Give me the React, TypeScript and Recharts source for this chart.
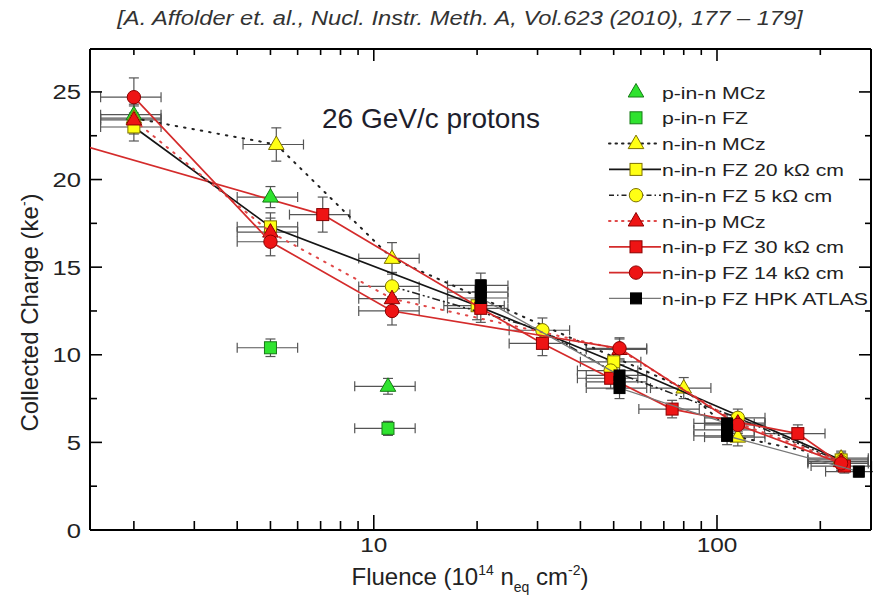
import React from 'react';
import { ScatterChart, Scatter, XAxis, YAxis, ErrorBar } from 'recharts';

// ---------- axes ----------
const FLUENCE_DOMAIN: [number, number] = [1.49, 281];
const CHARGE_DOMAIN: [number, number] = [0, 27.45];
const xTicks = [2, 3, 4, 5, 6, 7, 8, 9, 10, 20, 30, 40, 50, 60, 70, 80, 90, 100, 200];
const xTickLabels = [10, 100];
const yTicks = [0, 2.5, 5, 7.5, 10, 12.5, 15, 17.5, 20, 22.5, 25];
const yTickLabels = [0, 5, 10, 15, 20, 25];
const FLUENCE_REL_ERR = 0.2;

// ---------- data: [fluence (1e14 neq/cm2), collected charge (ke-), charge error] ----------
const pInNMCz = [[2, 23.7, 0.8], [5, 19.0, 0.6], [11, 8.2, 0.45]];
const pInNFZ = [[5, 10.4, 0.5], [11, 5.8, 0.4]];
const nInNMCz = [[2, 23.5, 0.8], [5.2, 22.0, 0.95], [11.3, 15.5, 0.9], [80, 8.1, 0.6], [115, 5.3, 0.5], [230, 4.1, 0.4]];
const nInNFZ20 = [[2, 23.0, 0.8], [5, 17.3, 0.8], [20, 12.8, 0.8], [50, 9.6, 0.7], [230, 4.0, 0.4]];
const nInNFZ5 = [[11.3, 13.9, 0.8], [31, 11.4, 0.7], [49, 9.1, 0.6], [115, 6.4, 0.5], [230, 3.9, 0.4]];
const nInPMCz = [[2, 23.4, 0.8], [5, 17.0, 0.8], [11.3, 13.2, 0.8], [52, 10.3, 0.6], [115, 6.1, 0.5], [230, 3.9, 0.4]];
const nInPFZ30 = [[1, 22.8, 0.8], [7.1, 18.0, 1.0], [20.5, 12.65, 0.8], [31, 10.65, 0.7], [49, 8.66, 0.6], [74, 6.9, 0.5], [172, 5.5, 0.5], [235, 3.65, 0.4]];
const nInPFZ14 = [[2, 24.7, 1.1], [5, 16.45, 0.8], [11.3, 12.5, 0.8], [52, 10.37, 0.6], [115, 6.0, 0.5], [230, 3.8, 0.4]];
const nInPHPK = [[20.5, 13.96, 0.7], [20.5, 13.58, 0.7], [20.5, 13.24, 0.7], [52, 8.82, 0.6], [52, 8.45, 0.6], [52, 8.1, 0.6], [107, 6.08, 0.5], [107, 5.71, 0.5], [107, 5.37, 0.5], [259, 3.33, 0.3]];

const seriesNames = [
  'p-in-n MCz',
  'p-in-n FZ',
  'n-in-n MCz',
  'n-in-n FZ 20 kΩ cm',
  'n-in-n FZ 5 kΩ cm',
  'n-in-p MCz',
  'n-in-p FZ 30 kΩ cm',
  'n-in-p FZ 14 kΩ cm',
  'n-in-p FZ HPK ATLAS',
];

const GREEN = '#2fe32f';
const GREEN_EDGE = '#167a16';
const YELLOW = '#ffff14';
const YELLOW_EDGE = '#7d7000';
const RED = '#ee1414';
const RED_EDGE = '#8c0000';
const BLACK = '#000000';

type Kind = 'triangle' | 'square' | 'circle' | 'smallsquare';
interface LineStyle { stroke: string; strokeWidth: number; strokeDasharray?: string; strokeLinecap?: string }
interface SeriesStyle { kind: Kind; fill: string; stroke: string; line: null | LineStyle; legendDash?: string }

const styles: SeriesStyle[] = [
  { kind: 'triangle', fill: GREEN, stroke: GREEN_EDGE, line: null },
  { kind: 'square', fill: GREEN, stroke: GREEN_EDGE, line: null },
  { kind: 'triangle', fill: YELLOW, stroke: YELLOW_EDGE, line: { stroke: '#222', strokeWidth: 2, strokeDasharray: '1.5 7', strokeLinecap: 'round' }, legendDash: '1.5 5' },
  { kind: 'square', fill: YELLOW, stroke: YELLOW_EDGE, line: { stroke: '#151515', strokeWidth: 1.7 } },
  { kind: 'circle', fill: YELLOW, stroke: YELLOW_EDGE, line: { stroke: '#222', strokeWidth: 1.5, strokeDasharray: '8 3 2 3 2 3' }, legendDash: '5 3 1.5 3' },
  { kind: 'triangle', fill: RED, stroke: RED_EDGE, line: { stroke: '#e04848', strokeWidth: 2, strokeDasharray: '1.5 7', strokeLinecap: 'round' }, legendDash: '1.5 5' },
  { kind: 'square', fill: RED, stroke: RED_EDGE, line: { stroke: '#d42b2b', strokeWidth: 1.7 } },
  { kind: 'circle', fill: RED, stroke: RED_EDGE, line: { stroke: '#d42b2b', strokeWidth: 1.7 } },
  { kind: 'smallsquare', fill: BLACK, stroke: BLACK, line: { stroke: '#777', strokeWidth: 1.3 } },
];

const seriesData = [pInNMCz, pInNFZ, nInNMCz, nInNFZ20, nInNFZ5, nInPMCz, nInPFZ30, nInPFZ14, nInPHPK];

type Row = { x: number; y: number; ey: number; ex: number };
const toRows = (arr: number[][]): Row[] =>
  arr.map(([x, y, ey]) => ({ x, y, ey, ex: x * FLUENCE_REL_ERR }));

// points lying left of the visible fluence range only contribute their connecting line
const inRange = (r: Row) => r.x >= FLUENCE_DOMAIN[0];

const FONT = '"Liberation Sans", Arial, sans-serif';
const STRETCH = 1.22; // the reference's lettering is horizontally stretched

function Marker({ kind, cx, cy, fill, stroke }: { kind: Kind; cx: number; cy: number; fill: string; stroke: string }) {
  if (cx == null || cy == null || isNaN(cx) || isNaN(cy)) return null;
  if (kind === 'triangle') {
    const pts = `${cx},${cy - 8.5} ${cx - 7.8},${cy + 5} ${cx + 7.8},${cy + 5}`;
    return <polygon points={pts} fill={fill} stroke={stroke} strokeWidth={1} />;
  }
  if (kind === 'square') {
    return <rect x={cx - 6} y={cy - 6} width={12} height={12} fill={fill} stroke={stroke} strokeWidth={1} />;
  }
  if (kind === 'smallsquare') {
    return <rect x={cx - 5.5} y={cy - 5.5} width={11} height={11} fill={fill} stroke={stroke} strokeWidth={1} />;
  }
  return <circle cx={cx} cy={cy} r={6.7} fill={fill} stroke={stroke} strokeWidth={1} />;
}

function SText({ x, y, size, anchor, children, fill = '#222', italic = false }: any) {
  return (
    <text
      transform={`translate(${x},${y}) scale(${STRETCH},1)`}
      textAnchor={anchor || 'start'}
      fontFamily={FONT}
      fontSize={size}
      fontStyle={italic ? 'italic' : 'normal'}
      fill={fill}
    >
      {children}
    </text>
  );
}

const MAJOR_LEN = 12;
const MINOR_LEN = 7;

const BottomTick = (props: any) => {
  const { x, y, payload } = props;
  const v = payload.value;
  const major = xTickLabels.includes(v);
  return (
    <g>
      <line x1={x} x2={x} y1={y} y2={y - (major ? MAJOR_LEN + 3 : MINOR_LEN + 2)} stroke="#000" strokeWidth={1.6} />
      {major && <SText x={x} y={y + 22} size={20} anchor="middle">{v}</SText>}
    </g>
  );
};

const TopTick = (props: any) => {
  const { x, y, payload } = props;
  const major = xTickLabels.includes(payload.value);
  return <line x1={x} x2={x} y1={y} y2={y + (major ? MAJOR_LEN : MINOR_LEN - 1)} stroke="#000" strokeWidth={1.6} />;
};

const LeftTick = (props: any) => {
  const { x, y, payload } = props;
  const v = payload.value;
  const major = yTickLabels.includes(v);
  return (
    <g>
      <line x1={x} x2={x + (major ? MAJOR_LEN : MINOR_LEN)} y1={y} y2={y} stroke="#000" strokeWidth={1.6} />
      {major && <SText x={x - 9} y={y + 7.5} size={21} anchor="end">{v}</SText>}
    </g>
  );
};

const RightTick = (props: any) => {
  const { x, y, payload } = props;
  const major = yTickLabels.includes(payload.value);
  return <line x1={x} x2={x - (major ? MAJOR_LEN : MINOR_LEN - 1)} y1={y} y2={y} stroke="#000" strokeWidth={1.6} />;
};

const LEGEND_X = 609;
const LEGEND_Y0 = 92;
const LEGEND_DY = 25.8;

function LegendOverlay() {
  return (
    <g>
      {seriesNames.map((name, i) => {
        const st = styles[i];
        const y = LEGEND_Y0 + i * LEGEND_DY;
        const mx = LEGEND_X + 27;
        return (
          <g key={name}>
            {st.line && (
              <line
                x1={LEGEND_X}
                x2={LEGEND_X + 52}
                y1={y}
                y2={y}
                stroke={st.line.stroke}
                strokeWidth={st.line.strokeWidth}
                strokeDasharray={st.legendDash}
                strokeLinecap={(st.line.strokeLinecap as any) || 'butt'}
              />
            )}
            <Marker kind={st.kind} cx={mx} cy={y} fill={st.fill} stroke={st.stroke} />
            <SText x={LEGEND_X + 53} y={y + 6.5} size={17.4}>{name}</SText>
          </g>
        );
      })}
    </g>
  );
}

const axisCommon = {
  allowDataOverflow: true,
  interval: 0 as const,
  tickLine: false,
  tickSize: 0,
  tickMargin: 0,
  axisLine: { stroke: '#000', strokeWidth: 2 },
};

export default function App() {
  return (
    <div style={{ position: 'absolute', left: 0, top: 0, width: 873, height: 600, background: '#fff' }}>
      <ScatterChart width={873} height={600} margin={{ top: 0, right: 0, bottom: 0, left: 0 }}>
        <XAxis xAxisId="b" dataKey="x" type="number" scale="log" domain={FLUENCE_DOMAIN} ticks={xTicks} tick={<BottomTick />} height={70} {...axisCommon} />
        <XAxis xAxisId="t" orientation="top" dataKey="x" type="number" scale="log" domain={FLUENCE_DOMAIN} ticks={xTicks} tick={<TopTick />} height={49} {...axisCommon} />
        <YAxis yAxisId="l" dataKey="y" type="number" domain={CHARGE_DOMAIN} ticks={yTicks} tick={<LeftTick />} width={90} {...axisCommon} />
        <YAxis yAxisId="r" orientation="right" dataKey="y" type="number" domain={CHARGE_DOMAIN} ticks={yTicks} tick={<RightTick />} width={2} {...axisCommon} />
        {seriesData.map((arr, i) => {
          const st = styles[i];
          const rows = toRows(arr);
          const outside = rows.filter((r) => !inRange(r));
          if (!outside.length || !st.line) return null;
          const firstIn = rows.find(inRange);
          // connecting line entering from beyond the left edge (no markers)
          return (
            <Scatter
              key={seriesNames[i] + '-lead'}
              xAxisId="b"
              yAxisId="l"
              data={firstIn ? [...outside, firstIn] : outside}
              isAnimationActive={false}
              fill="none"
              line={st.line as any}
              lineType="joint"
              shape={() => <g />}
              legendType="none"
            />
          );
        })}
        {seriesData.map((arr, i) => {
          const st = styles[i];
          return (
            <Scatter
              key={seriesNames[i]}
              name={seriesNames[i]}
              xAxisId="b"
              yAxisId="l"
              data={toRows(arr).filter(inRange)}
              isAnimationActive={false}
              fill={st.fill}
              line={st.line ? (st.line as any) : false}
              lineType="joint"
              shape={(p: any) => <Marker kind={st.kind} cx={p.cx} cy={p.cy} fill={st.fill} stroke={st.stroke} />}
            >
              <ErrorBar dataKey="ex" direction="x" width={5} stroke="#555" strokeWidth={1.2} />
              <ErrorBar dataKey="ey" direction="y" width={5} stroke="#555" strokeWidth={1.2} />
            </Scatter>
          );
        })}
      </ScatterChart>
      <svg width={873} height={600} style={{ position: 'absolute', left: 0, top: 0, pointerEvents: 'none' }}>
        <SText x={460} y={25} size={19.4} anchor="middle" italic fill="#333">
          [A. Affolder et. al., Nucl. Instr. Meth. A, Vol.623 (2010), 177 – 179]
        </SText>
        <text x={322} y={128} fontFamily={FONT} fontSize={28} fill="#1e1e2c">
          26 GeV/c protons
        </text>
        <text transform="translate(38, 312.5) rotate(-90)" textAnchor="middle" fontFamily={FONT} fontSize={24} fill="#222">
          Collected Charge (ke<tspan dy={-9} fontSize={14}>-</tspan>
          <tspan dy={9}>)</tspan>
        </text>
        <text x={470} y={585} textAnchor="middle" fontFamily={FONT} fontSize={24} fill="#222">
          Fluence (10<tspan dy={-10} fontSize={14}>14</tspan>
          <tspan dy={10}> n</tspan>
          <tspan dy={7} fontSize={14}>eq</tspan>
          <tspan dy={-7}> cm</tspan>
          <tspan dy={-10} fontSize={14}>-2</tspan>
          <tspan dy={10}>)</tspan>
        </text>
        <LegendOverlay />
      </svg>
    </div>
  );
}
